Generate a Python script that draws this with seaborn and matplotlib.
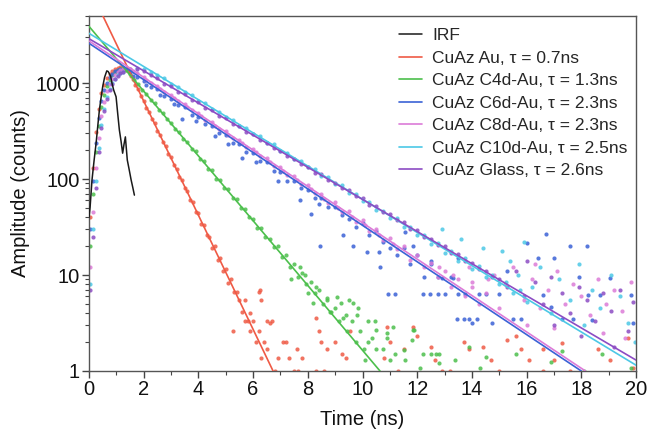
import matplotlib
matplotlib.use('Agg')
import matplotlib.pyplot as plt
from matplotlib.ticker import LogLocator, MultipleLocator, NullFormatter
import seaborn as sns
import pandas as pd

# IRF trace (time in ns, counts)
irf_t = [0.00, 0.04, 0.11, 0.19, 0.26, 0.33, 0.38, 0.44, 0.50, 0.57, 0.65, 0.70, 0.74, 0.79, 0.84,
         0.90, 0.99, 1.05, 1.11, 1.17, 1.23, 1.28, 1.33, 1.37, 1.40, 1.47, 1.54, 1.60, 1.66]
irf_y = [40, 51, 98, 160, 237, 380, 524, 700, 915, 1150, 1340, 1320, 1260, 1180, 1000,
         850, 720, 480, 325, 250, 186, 230, 275, 200, 158, 125, 98, 82, 68]

au_pts = [(0.05, 40), (0.15, 130), (0.25, 310), (0.35, 540), (0.45, 780), (0.55, 960), (0.65, 1120),
          (0.75, 1250), (0.85, 1340), (0.95, 1410), (1.05, 1450), (1.15, 1460), (1.25, 1430), (1.35, 1370),
          (1.45, 1290), (1.55, 1180), (1.6, 1090), (1.7, 965), (1.8, 860), (1.9, 735), (2.0, 655), (2.1, 555),
          (2.2, 500), (2.3, 420), (2.4, 380), (2.5, 320), (2.6, 290), (2.7, 243), (2.8, 221), (2.9, 184),
          (3.0, 168), (3.1, 139), (3.2, 128), (3.3, 104), (3.4, 97), (3.5, 80), (3.6, 75), (3.7, 60),
          (3.8, 57), (3.9, 45), (4.0, 44), (4.1, 34), (4.2, 33), (4.3, 26), (4.4, 25), (4.5, 19), (4.6, 20),
          (4.7, 14.5), (4.8, 15), (4.9, 11), (5.0, 11.5), (5.1, 8.2), (5.2, 9.0), (5.3, 6.7), (5.4, 6.7),
          (5.5, 5.5), (5.6, 4.1), (5.7, 5.5), (5.8, 3.3), (5.9, 2.6), (6.0, 3.3), (6.1, 2.0), (6.2, 2.6),
          (6.3, 1.37), (6.4, 2.0), (6.5, 1.68),
          (5.25, 2.6), (5.7, 3.3), (5.9, 4.0), (6.2, 6.7), (6.25, 7.0), (6.3, 5.5), (6.5, 3.3), (6.6, 3.2),
          (6.7, 3.3), (6.8, 1.0), (6.9, 1.37), (7.1, 2.0), (7.2, 2.0), (7.3, 1.37), (7.5, 1.0), (7.6, 1.68),
          (7.65, 1.0), (7.8, 1.37), (8.3, 3.6), (8.3, 1.0), (8.4, 2.6), (8.5, 2.0), (8.6, 1.0), (8.7, 1.68),
          (9.0, 2.0), (9.25, 1.5), (9.4, 1.37), (9.55, 2.6), (10.8, 1.37), (10.9, 2.9), (11.0, 2.0),
          (11.3, 1.0), (11.5, 1.68), (11.85, 2.9), (12.0, 2.3), (12.5, 1.8), (12.65, 1.3), (12.9, 1.0),
          (13.2, 1.0), (13.7, 2.0), (13.9, 1.7), (14.4, 1.8), (14.7, 1.3), (15.0, 1.0), (15.3, 2.1),
          (15.6, 2.3), (15.8, 1.7), (16.1, 1.3), (16.6, 1.7), (16.6, 1.0), (17.0, 1.3), (17.3, 1.95),
          (17.6, 1.0), (18.6, 1.7), (19.05, 1.3), (19.7, 2.2), (19.9, 1.07)]

c4_pts = [(0.05, 20), (0.15, 70), (0.25, 190), (0.35, 360), (0.45, 560), (0.55, 760), (0.65, 930),
          (0.75, 1080), (0.85, 1200), (0.95, 1300), (1.05, 1360), (1.15, 1390), (1.25, 1400),
          (1.35, 1380), (1.5, 1230), (1.65, 1070), (1.8, 975), (1.95, 850), (2.1, 770), (2.25, 670),
          (2.4, 615), (2.55, 530), (2.7, 490), (2.85, 420), (3.0, 385), (3.15, 330), (3.3, 310), (3.45, 262),
          (3.6, 245), (3.75, 205), (3.9, 195), (4.05, 162), (4.2, 155), (4.35, 128), (4.5, 124), (4.65, 101),
          (4.8, 98), (4.95, 80), (5.1, 78), (5.25, 63), (5.4, 62), (5.55, 50), (5.7, 49), (5.85, 40),
          (6.0, 38), (6.15, 31), (6.3, 31), (6.45, 25), (6.6, 24), (6.75, 19.5), (6.9, 20), (7.05, 15.5),
          (7.2, 16), (7.35, 12), (7.5, 13), (7.65, 9.5), (7.8, 10.5), (7.95, 8), (8.1, 8.5), (8.25, 6.5),
          (8.4, 7), (8.55, 5), (8.7, 5.5), (8.85, 4.1), (9.0, 4.5), (9.15, 3.3), (9.3, 3.6), (9.45, 2.6),
          (9.6, 3.3), (9.75, 2.0), (9.9, 2.6), (10.05, 1.7), (10.2, 2.0),
          (7.4, 9), (7.7, 12), (7.9, 10), (8.0, 6.5), (8.2, 5.1), (8.3, 7.5), (8.7, 5.8), (8.8, 4.1),
          (9.05, 5.9), (9.2, 5.1), (9.4, 3.8), (9.5, 5.5), (9.65, 5.1), (9.8, 3.8), (9.85, 4.5), (10.1, 1.3),
          (10.2, 3.3), (10.35, 2.2), (10.45, 3.3), (10.5, 2.7), (10.5, 1.7), (10.75, 1.7), (10.9, 2.2),
          (10.9, 2.5), (11.0, 1.3), (11.1, 2.9), (11.2, 1.5), (11.5, 1.65), (11.55, 1.3), (11.8, 2.1),
          (11.85, 2.7), (11.9, 2.7), (12.1, 1.07), (12.2, 1.5), (12.5, 1.5), (12.7, 1.5), (12.8, 1.2),
          (12.8, 1.5), (13.4, 1.3), (13.9, 1.8), (14.3, 1.07), (14.5, 1.4), (15.6, 1.5), (16.9, 1.25),
          (17.3, 1.6), (18.1, 1.0), (18.75, 1.5), (19.8, 1.07)]

c6_pts = [(0.05, 30), (0.15, 95), (0.25, 240), (0.35, 430), (0.45, 650), (0.55, 850), (0.65, 1010),
          (0.75, 1150), (0.85, 1250), (0.95, 1330), (1.05, 1380), (1.15, 1400), (1.25, 1390), (1.5, 1300),
          (1.75, 1150), (2.0, 1060), (2.25, 920), (2.5, 860), (2.75, 730), (3.0, 690), (3.25, 590),
          (3.5, 560), (3.75, 470), (4.0, 440), (4.25, 375), (4.5, 360), (4.75, 300), (5.0, 285), (5.25, 240),
          (5.5, 230), (5.75, 190), (6.0, 185), (6.25, 155), (6.5, 150), (6.75, 122), (7.0, 118), (7.25, 96),
          (7.5, 96), (7.75, 80), (8.0, 77), (8.25, 64), (8.5, 64), (8.75, 51), (9.0, 51), (9.25, 42),
          (9.5, 38), (9.75, 32), (10.0, 35), (10.25, 26), (10.5, 29), (10.75, 22), (11.0, 19), (11.25, 16),
          (11.5, 19), (11.75, 13), (12.0, 16), (12.25, 9.6), (12.5, 13), (12.75, 9.6), (13.0, 6.4),
          (13.25, 9.6), (13.5, 6.4), (13.75, 6.4), (14.0, 3.2), (14.25, 6.4), (14.5, 6.4), (14.75, 3.2),
          (15.0, 6.4),
          (1.6, 1180), (2.1, 950), (2.6, 760), (3.1, 610), (3.4, 420), (3.9, 400), (4.6, 280), (5.1, 230),
          (5.6, 165), (6.1, 150), (6.9, 95), (7.7, 60), (8.1, 43), (8.4, 55), (8.45, 20), (9.3, 26),
          (9.65, 20), (10.15, 17.5), (10.6, 17.5), (10.65, 12), (10.95, 6.3), (11.2, 6.3), (11.55, 28),
          (11.85, 20), (12.2, 6.3), (12.45, 6.3), (12.5, 14), (12.75, 6.3), (12.9, 9.3), (13.3, 9.3),
          (13.45, 3.5), (13.5, 15), (13.7, 3.5), (13.9, 3.5), (14.2, 3.5), (15.3, 11), (15.5, 3.5),
          (15.8, 3.5), (16.0, 21.5), (16.4, 15), (16.6, 6.2), (16.7, 27), (16.9, 4.6), (17.0, 15),
          (17.3, 3.5), (17.6, 20), (17.7, 3.5), (17.9, 9.5), (18.2, 20), (18.25, 6.2), (18.4, 3.4),
          (18.7, 6.2), (19.05, 9.3), (19.8, 6.2), (19.9, 3.2)]

c8_pts = [(0.05, 12), (0.15, 45), (0.25, 130), (0.35, 270), (0.45, 450), (0.55, 640), (0.65, 820),
          (0.75, 980), (0.85, 1110), (0.95, 1220), (1.05, 1300), (1.15, 1360), (1.25, 1400), (1.5, 1400),
          (1.75, 1270), (2.0, 1160), (2.25, 1000), (2.5, 930), (2.75, 800), (3.0, 760), (3.25, 650),
          (3.5, 610), (3.75, 520), (4.0, 490), (4.25, 415), (4.5, 395), (4.75, 335), (5.0, 318), (5.25, 268),
          (5.5, 255), (5.75, 214), (6.0, 206), (6.25, 172), (6.5, 166), (6.75, 138), (7.0, 134), (7.25, 110),
          (7.5, 108), (7.75, 88), (8.0, 87), (8.25, 71), (8.5, 70), (8.75, 56), (9.0, 57), (9.25, 45),
          (9.5, 46), (9.75, 36), (10.0, 37), (10.25, 29), (10.5, 30), (10.75, 23), (11.0, 24.5),
          (11.25, 18.5), (11.5, 20), (11.75, 14.5), (12.0, 16), (12.25, 12), (12.5, 13.5), (12.75, 9.5),
          (13.0, 11), (13.25, 7.5), (13.5, 9), (13.75, 6), (14.0, 7.5), (14.25, 5), (14.5, 6.5),
          (1.6, 1330), (2.1, 1080), (2.6, 870), (3.1, 700), (3.6, 560), (4.1, 450), (4.6, 360), (5.1, 290),
          (5.6, 235), (6.1, 190), (6.6, 150), (7.1, 120), (7.6, 98), (8.1, 78), (8.6, 62), (9.1, 50),
          (9.6, 40), (10.1, 33), (10.6, 26), (11.1, 21),
          (12.8, 12), (13.3, 10), (13.9, 12), (14.0, 8.5), (14.6, 9), (14.8, 10), (15.0, 4.5), (15.2, 8),
          (15.5, 12), (15.9, 5.5), (16.0, 3), (16.2, 9), (16.3, 13), (16.5, 4.5), (16.8, 7), (17.0, 2.8),
          (17.1, 11), (17.4, 5), (17.7, 8), (18.0, 6), (18.3, 3.8), (18.6, 9), (18.8, 2.5), (18.9, 5),
          (19.2, 7), (19.5, 4.2), (19.6, 2.2), (19.8, 8.5)]

c10_pts = [(0.05, 8), (0.15, 30), (0.25, 95), (0.35, 210), (0.45, 370), (0.55, 540), (0.65, 710),
           (0.75, 870), (0.85, 1000), (0.95, 1110), (1.05, 1200), (1.15, 1260), (1.25, 1300), (1.5, 1380),
           (1.75, 1420), (2.0, 1400), (2.25, 1320), (2.5, 1210), (2.75, 1120), (3.0, 980), (3.25, 920),
           (3.5, 800), (3.75, 755), (4.0, 655), (4.25, 620), (4.5, 535), (4.75, 505), (5.0, 440),
           (5.25, 415), (5.5, 360), (5.75, 340), (6.0, 295), (6.25, 280), (6.5, 240), (6.75, 230),
           (7.0, 198), (7.25, 188), (7.5, 160), (7.75, 155), (8.0, 132), (8.25, 127), (8.5, 108),
           (8.75, 104), (9.0, 88), (9.25, 86), (9.5, 72), (9.75, 70), (10.0, 59), (10.25, 57), (10.5, 48),
           (10.75, 47), (11.0, 39), (11.25, 39), (11.5, 32), (11.75, 32), (12.0, 26), (12.25, 26),
           (12.5, 21), (12.75, 21.5), (13.0, 17), (13.25, 18), (13.5, 14), (13.75, 15), (14.0, 11.5),
           (14.25, 12.5), (14.5, 9.5), (14.75, 10), (15.0, 8), (15.25, 8.5), (15.5, 6.5), (15.75, 7),
           (16.0, 5.2),
           (12.9, 30), (13.6, 24), (14.4, 19), (15.1, 18), (15.4, 14), (15.7, 10), (15.9, 22), (16.2, 7.5),
           (16.5, 12), (16.9, 4.0), (17.2, 9), (17.6, 5.5), (17.9, 13), (18.1, 3.0), (18.4, 7), (18.7, 4.5),
           (19.1, 10), (19.4, 6), (19.7, 3.2), (19.95, 2.0)]

glass_pts = [(0.05, 7), (0.15, 25), (0.25, 80), (0.35, 190), (0.45, 340), (0.55, 510), (0.65, 680),
             (0.75, 840), (0.85, 980), (0.95, 1100), (1.05, 1190), (1.15, 1260), (1.25, 1320), (1.5, 1400),
             (1.75, 1390), (2.0, 1330), (2.25, 1220), (2.5, 1120), (2.75, 990), (3.0, 930), (3.25, 810),
             (3.5, 770), (3.75, 670), (4.0, 630), (4.25, 550), (4.5, 520), (4.75, 455), (5.0, 430),
             (5.25, 375), (5.5, 355), (5.75, 310), (6.0, 292), (6.25, 255), (6.5, 240), (6.75, 210),
             (7.0, 198), (7.25, 172), (7.5, 163), (7.75, 142), (8.0, 135), (8.25, 117), (8.5, 112),
             (8.75, 97), (9.0, 92), (9.25, 80), (9.5, 76), (9.75, 66), (10.0, 63), (10.25, 54), (10.5, 52),
             (10.75, 45), (11.0, 43), (11.25, 37), (11.5, 35.5), (11.75, 30), (12.0, 29.5), (12.25, 25),
             (12.5, 24), (12.75, 20.5), (13.0, 20), (13.25, 17), (13.5, 16.5), (13.75, 14), (14.0, 13.5),
             (14.25, 11.5), (14.5, 11), (14.75, 9.5), (15.0, 9),
             (15.3, 7.5), (15.6, 11), (15.9, 6), (16.0, 14), (16.3, 8.5), (16.6, 5), (16.9, 9.5), (17.0, 3.0),
             (17.3, 6.5), (17.6, 4), (17.9, 7.5), (18.0, 2.3), (18.2, 5.5), (18.5, 3.3), (18.8, 6.5),
             (19.1, 4.2), (19.2, 1.8), (19.4, 7), (19.7, 2.6), (19.9, 5.2)]

# mono-exponential fits: start and end point of each line
fit_labels = ['CuAz Au, τ = 0.7ns', 'CuAz C4d-Au, τ = 1.3ns', 'CuAz C6d-Au, τ = 2.3ns',
              'CuAz C8d-Au, τ = 2.3ns', 'CuAz C10d-Au, τ = 2.5ns', 'CuAz Glass, τ = 2.6ns']
fit_t0 = [0.51, 0.0, 0.0, 0.0, 0.0, 0.0]
fit_y0 = [5000, 3900, 2600, 2750, 3300, 2900]
fit_t1 = [6.73, 10.64, 18.0, 18.15, 20.0, 20.0]
fit_y1 = [1.0, 1.0, 1.0, 1.0, 1.15, 1.3]

colors = ['#ef5a45', '#4cbf4c', '#3b62d6', '#dc7bd8', '#4cc8e6', '#8c4cc4']
all_pts = [au_pts, c4_pts, c6_pts, c8_pts, c10_pts, glass_pts]

sns.set_theme(style='ticks')
plt.rcParams['font.family'] = ['Liberation Sans', 'DejaVu Sans']

fig = plt.figure(figsize=(6.47, 4.34), dpi=100)
ax = fig.add_axes([89 / 647, 1 - 371 / 434, (636 - 89) / 647, (371 - 16) / 434])
ax.set_yscale('log')

# data points first, fits on top
for pts, col in zip(all_pts, colors):
    df = pd.DataFrame(pts, columns=['t', 'y'])
    sns.scatterplot(data=df, x='t', y='y', color=col, s=9, linewidth=0, alpha=0.85,
                    legend=False, ax=ax, zorder=2)

sns.lineplot(x=irf_t, y=irf_y, color='#1a1a1a', lw=1.1, sort=False, estimator=None,
             label='IRF', ax=ax, zorder=4)
for i in range(len(fit_labels)):
    sns.lineplot(x=[fit_t0[i], fit_t1[i]], y=[fit_y0[i], fit_y1[i]], color=colors[i], lw=1.2,
                 estimator=None, label=fit_labels[i], ax=ax, zorder=3)

ax.set_xlim(0, 20)
ax.set_ylim(1, 5000)
ax.set_xticks(range(0, 21, 2))
ax.xaxis.set_minor_locator(MultipleLocator(1))
ax.set_yticks([1, 10, 100, 1000])
ax.set_yticklabels(['1', '10', '100', '1000'])
ax.yaxis.set_minor_locator(LogLocator(base=10, subs=range(2, 10)))
ax.yaxis.set_minor_formatter(NullFormatter())

ax.tick_params(which='major', direction='out', length=5, width=1, color='#444',
               labelsize=14.5, labelcolor='#111', pad=1.5)
ax.tick_params(which='minor', direction='out', length=3, width=0.8, color='#444')
for sp in ax.spines.values():
    sp.set_visible(True)
    sp.set_color('#555')
    sp.set_linewidth(1)

ax.set_xlabel('Time (ns)', fontsize=14.5, color='#111', labelpad=8)
ax.set_ylabel('Amplitude (counts)', fontsize=14.5, color='#111', labelpad=4)

ax.legend(loc='upper right', bbox_to_anchor=(1.0, 0.99), frameon=False, fontsize=12.5,
          handlelength=1.3, handletextpad=0.6, labelspacing=0.42, borderaxespad=0.1)

fig.savefig('out.png', dpi=100)
